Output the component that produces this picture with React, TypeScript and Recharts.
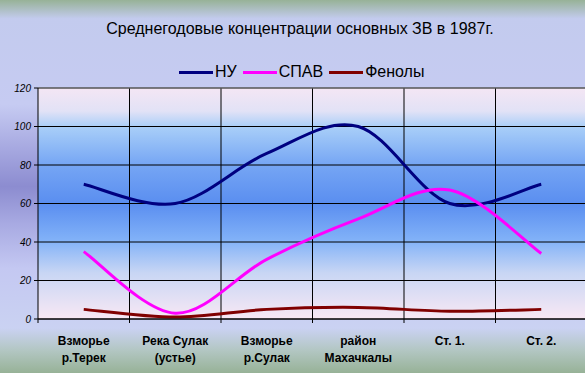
import React from "react";
import {
  CartesianGrid,
  Legend,
  Line,
  LineChart,
  ReferenceLine,
  XAxis,
  YAxis,
} from "recharts";

const categories = [
  "Взморье\nр.Терек",
  "Река Сулак\n(устье)",
  "Взморье\nр.Сулак",
  "район\nМахачкалы",
  "Ст. 1.",
  "Ст. 2.",
];
const nuValues = [70, 60, 86, 100, 60, 70];
const spavValues = [35, 3, 31, 52, 67, 34];
const phenolValues = [5, 1, 5, 6, 4, 5];
const yTicks = [0, 20, 40, 60, 80, 100, 120];

const FONT = '"Liberation Sans", Arial, sans-serif';

const data = categories.map((c, i) => ({
  pos: i + 0.5,
  label: c,
  nu: nuValues[i],
  spav: spavValues[i],
  phenol: phenolValues[i],
}));

// label ticks in the middle of each category, small marks on the borders
const xTicks: number[] = [];
for (let i = 0; i <= categories.length; i++) {
  xTicks.push(i);
  if (i < categories.length) xTicks.push(i + 0.5);
}
const borders = categories.map((_, i) => i).slice(1);

// excel-like smoothed line (catmull-rom through the points)
const excelCurve = (context: any) => {
  let pts: number[][] = [];
  return {
    areaStart() {},
    areaEnd() {},
    lineStart() {
      pts = [];
    },
    point(x: number, y: number) {
      pts.push([+x, +y]);
    },
    lineEnd() {
      const n = pts.length;
      if (!n) return;
      context.moveTo(pts[0][0], pts[0][1]);
      for (let i = 0; i < n - 1; i++) {
        const p0 = pts[i - 1] || pts[i];
        const p1 = pts[i];
        const p2 = pts[i + 1];
        const p3 = pts[i + 2] || p2;
        context.bezierCurveTo(
          p1[0] + (p2[0] - p0[0]) / 6,
          p1[1] + (p2[1] - p0[1]) / 6,
          p2[0] - (p3[0] - p1[0]) / 6,
          p2[1] - (p3[1] - p1[1]) / 6,
          p2[0],
          p2[1]
        );
      }
    },
  };
};

function XTick(props: any) {
  const { x, y, payload } = props;
  const v = payload.value;
  if (Number.isInteger(v)) {
    return <line x1={x} y1={y} x2={x} y2={y + 4} stroke="#000" />;
  }
  const lines = categories[Math.floor(v)].split("\n");
  return (
    <text
      x={x}
      y={y}
      textAnchor="middle"
      fontFamily={FONT}
      fontSize={12}
      fontWeight="bold"
      fill="#000"
    >
      {lines.map((l, i) => (
        <tspan key={i} x={x} dy={i === 0 ? 26 : 17}>
          {l}
        </tspan>
      ))}
    </text>
  );
}

function renderLegend(props: any) {
  const { payload } = props;
  return (
    <div style={{ display: "flex", alignItems: "center", fontFamily: FONT, fontSize: 16 }}>
      {payload.map((p: any) => (
        <div key={p.value} style={{ display: "flex", alignItems: "center", marginRight: 6 }}>
          <span
            style={{ display: "inline-block", width: 34, height: 3, background: p.color, marginRight: 2 }}
          />
          <span>{p.value}</span>
        </div>
      ))}
    </div>
  );
}

export default function App() {
  return (
    <div
      style={{
        position: "absolute",
        left: 0,
        top: 0,
        width: 585,
        height: 373,
        overflow: "hidden",
        fontFamily: FONT,
        background:
          "linear-gradient(to bottom, #97b297 0%, #c3cbee 5%, #c6cbf2 28%, #a6a8e0 40%, #8c8cd0 50%, #a8aae2 60%, #c4c8f2 72%, #cad2f2 88%, #b2c6c2 94%, #97b297 100%)",
      }}
    >
      <div
        style={{
          position: "absolute",
          top: 20,
          left: 0,
          width: 600,
          textAlign: "center",
          fontSize: 16,
          color: "#000",
        }}
      >
        Среднегодовые концентрации основных ЗВ в 1987г.
      </div>
      <LineChart
        width={585}
        height={373}
        data={data}
        margin={{ top: 88, right: -2, bottom: 0, left: 0 }}
      >
        <defs>
          <linearGradient id="plotBg" x1="0" y1="0" x2="0" y2="1">
            <stop offset="0%" stopColor="#f4e6f4" />
            <stop offset="10%" stopColor="#e2e2f6" />
            <stop offset="17%" stopColor="#a8cef8" />
            <stop offset="33%" stopColor="#76a6f4" />
            <stop offset="50%" stopColor="#5a8ef0" />
            <stop offset="66%" stopColor="#82b2f8" />
            <stop offset="80%" stopColor="#c8d6f4" />
            <stop offset="100%" stopColor="#f8e8f4" />
          </linearGradient>
        </defs>
        <CartesianGrid
          stroke="#000"
          strokeWidth={1}
          fill="url(#plotBg)"
          fillOpacity={1}
          verticalValues={borders}
        />
        <ReferenceLine y={120} stroke="#808080" />
        <XAxis
          type="number"
          dataKey="pos"
          domain={[0, categories.length]}
          ticks={xTicks}
          interval={0}
          tickLine={false}
          tickSize={0}
          tickMargin={0}
          tick={<XTick />}
          axisLine={{ stroke: "#000" }}
          height={54}
        />
        <YAxis
          type="number"
          domain={[0, 120]}
          ticks={yTicks}
          interval={0}
          width={38}
          tickSize={4}
          tickMargin={3}
          axisLine={{ stroke: "#000" }}
          tickLine={{ stroke: "#000" }}
          tick={{ fontSize: 10, fontStyle: "italic", fill: "#000", fontFamily: FONT }}
        />
        <Legend
          layout="horizontal"
          verticalAlign="middle"
          align="center"
          content={renderLegend}
          wrapperStyle={{ top: 63, left: 179, width: "auto" }}
        />
        <Line
          name="НУ"
          dataKey="nu"
          stroke="#000080"
          strokeWidth={3}
          type={excelCurve as any}
          dot={false}
          activeDot={false}
          isAnimationActive={false}
        />
        <Line
          name="СПАВ"
          dataKey="spav"
          stroke="#ff00ff"
          strokeWidth={3}
          type={excelCurve as any}
          dot={false}
          activeDot={false}
          isAnimationActive={false}
        />
        <Line
          name="Фенолы"
          dataKey="phenol"
          stroke="#800000"
          strokeWidth={3}
          type={excelCurve as any}
          dot={false}
          activeDot={false}
          isAnimationActive={false}
        />
      </LineChart>
    </div>
  );
}
